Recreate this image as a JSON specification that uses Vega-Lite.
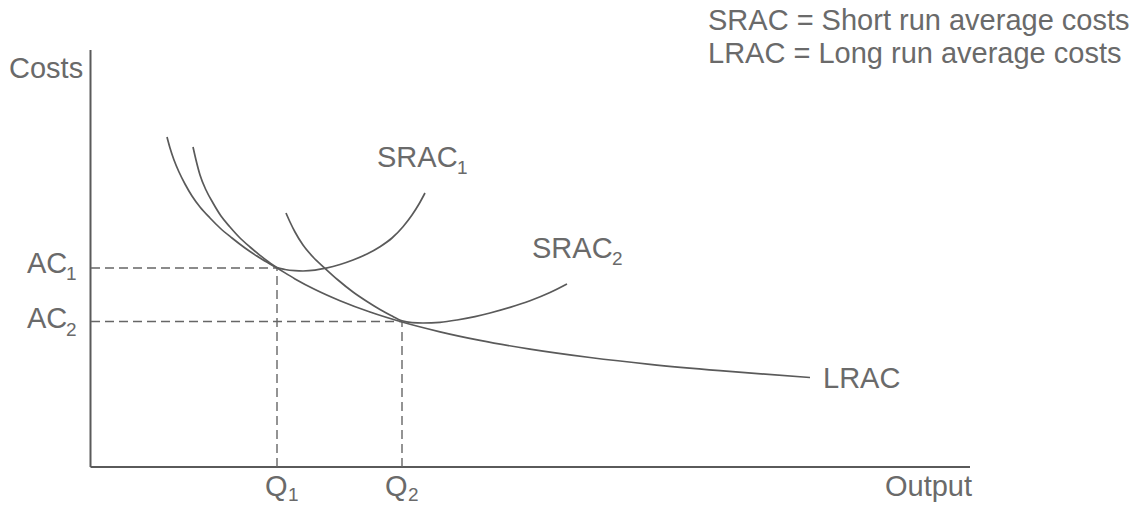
{
  "$schema": "https://vega.github.io/schema/vega-lite/v6.json",
  "width": 1142,
  "height": 506,
  "autosize": {"type": "none"},
  "padding": 0,
  "background": "white",
  "config": {"view": {"stroke": null}},
  "datasets": {
    "curves": [
      {"curve": "LRAC", "x": 76, "y": 330}, {"curve": "LRAC", "x": 79, "y": 319}, {"curve": "LRAC", "x": 83, "y": 307},
      {"curve": "LRAC", "x": 88, "y": 295}, {"curve": "LRAC", "x": 94, "y": 283}, {"curve": "LRAC", "x": 101, "y": 271},
      {"curve": "LRAC", "x": 109, "y": 260}, {"curve": "LRAC", "x": 119, "y": 249}, {"curve": "LRAC", "x": 129, "y": 239},
      {"curve": "LRAC", "x": 141, "y": 229}, {"curve": "LRAC", "x": 154, "y": 219}, {"curve": "LRAC", "x": 169, "y": 209},
      {"curve": "LRAC", "x": 186, "y": 199}, {"curve": "LRAC", "x": 204, "y": 188.1}, {"curve": "LRAC", "x": 224, "y": 177.5},
      {"curve": "LRAC", "x": 249, "y": 166.3}, {"curve": "LRAC", "x": 279, "y": 155}, {"curve": "LRAC", "x": 311, "y": 145},
      {"curve": "LRAC", "x": 349, "y": 135.2}, {"curve": "LRAC", "x": 389, "y": 126.6}, {"curve": "LRAC", "x": 439, "y": 117.9},
      {"curve": "LRAC", "x": 499, "y": 109.5}, {"curve": "LRAC", "x": 559, "y": 102.7}, {"curve": "LRAC", "x": 629, "y": 96.3},
      {"curve": "LRAC", "x": 719, "y": 89.5},
      {"curve": "SRAC1", "x": 102, "y": 320}, {"curve": "SRAC1", "x": 105, "y": 307}, {"curve": "SRAC1", "x": 109, "y": 292},
      {"curve": "SRAC1", "x": 115, "y": 277}, {"curve": "SRAC1", "x": 122, "y": 264}, {"curve": "SRAC1", "x": 130, "y": 251},
      {"curve": "SRAC1", "x": 139, "y": 240}, {"curve": "SRAC1", "x": 149, "y": 229}, {"curve": "SRAC1", "x": 159, "y": 220},
      {"curve": "SRAC1", "x": 169, "y": 211.7}, {"curve": "SRAC1", "x": 179, "y": 204}, {"curve": "SRAC1", "x": 186, "y": 199.5},
      {"curve": "SRAC1", "x": 194, "y": 197.5}, {"curve": "SRAC1", "x": 204, "y": 196.3}, {"curve": "SRAC1", "x": 212, "y": 196},
      {"curve": "SRAC1", "x": 224, "y": 196.8}, {"curve": "SRAC1", "x": 234, "y": 198.7}, {"curve": "SRAC1", "x": 249, "y": 202.5},
      {"curve": "SRAC1", "x": 262, "y": 207}, {"curve": "SRAC1", "x": 276, "y": 213}, {"curve": "SRAC1", "x": 289, "y": 220.3},
      {"curve": "SRAC1", "x": 301, "y": 229}, {"curve": "SRAC1", "x": 312, "y": 240.3}, {"curve": "SRAC1", "x": 321, "y": 252},
      {"curve": "SRAC1", "x": 328, "y": 263}, {"curve": "SRAC1", "x": 334, "y": 274},
      {"curve": "SRAC2", "x": 195, "y": 254}, {"curve": "SRAC2", "x": 199, "y": 245}, {"curve": "SRAC2", "x": 204, "y": 235},
      {"curve": "SRAC2", "x": 212, "y": 222}, {"curve": "SRAC2", "x": 222, "y": 210}, {"curve": "SRAC2", "x": 234, "y": 198.7},
      {"curve": "SRAC2", "x": 247, "y": 187}, {"curve": "SRAC2", "x": 262, "y": 175}, {"curve": "SRAC2", "x": 276, "y": 165.5},
      {"curve": "SRAC2", "x": 289, "y": 157.5}, {"curve": "SRAC2", "x": 300, "y": 151.5}, {"curve": "SRAC2", "x": 311, "y": 146.2},
      {"curve": "SRAC2", "x": 321, "y": 144.4}, {"curve": "SRAC2", "x": 332, "y": 144}, {"curve": "SRAC2", "x": 349, "y": 144.7},
      {"curve": "SRAC2", "x": 366, "y": 147}, {"curve": "SRAC2", "x": 384, "y": 150.4}, {"curve": "SRAC2", "x": 399, "y": 154},
      {"curve": "SRAC2", "x": 419, "y": 159.6}, {"curve": "SRAC2", "x": 439, "y": 166.2}, {"curve": "SRAC2", "x": 459, "y": 174.4},
      {"curve": "SRAC2", "x": 476, "y": 183}
    ],
    "dashes": [
      {"x": 0, "y": 199, "x2": 186, "y2": 199},
      {"x": 0, "y": 145.5, "x2": 311, "y2": 145.5},
      {"x": 186, "y": 0, "x2": 186, "y2": 199},
      {"x": 311, "y": 0, "x2": 311, "y2": 145.5}
    ],
    "axes": [
      {"x": -0.5, "y": 0, "x2": -0.5, "y2": 417},
      {"x": -0.5, "y": 0, "x2": 879, "y2": 0}
    ],
    "labels": [
      {"text": "Costs", "x": -82, "y": 389},
      {"text": "AC", "x": -64, "y": 194},
      {"text": "AC", "x": -64, "y": 139},
      {"text": "Q", "x": 174, "y": -29},
      {"text": "Q", "x": 294, "y": -29},
      {"text": "SRAC", "x": 286, "y": 300},
      {"text": "SRAC", "x": 441, "y": 209},
      {"text": "LRAC", "x": 732, "y": 79},
      {"text": "Output", "x": 794, "y": -29},
      {"text": "SRAC = Short run average costs", "x": 617, "y": 437},
      {"text": "LRAC = Long run average costs", "x": 617, "y": 404}
    ],
    "subs": [
      {"text": "1", "x": -25, "y": 187},
      {"text": "2", "x": -25, "y": 131},
      {"text": "1", "x": 197, "y": -34},
      {"text": "2", "x": 317, "y": -34},
      {"text": "1", "x": 366, "y": 293},
      {"text": "2", "x": 521, "y": 202}
    ]
  },
  "encoding": {
    "x": {"field": "x", "type": "quantitative", "scale": {"domain": [-91, 1051], "nice": false, "zero": false}, "axis": null},
    "y": {"field": "y", "type": "quantitative", "scale": {"domain": [-39, 467], "nice": false, "zero": false}, "axis": null}
  },
  "layer": [
    {
      "data": {"name": "axes"},
      "mark": {"type": "rule", "color": "#5a5a5a", "strokeWidth": 2},
      "encoding": {"x2": {"field": "x2"}, "y2": {"field": "y2"}}
    },
    {
      "data": {"name": "dashes"},
      "mark": {"type": "rule", "color": "#666666", "strokeWidth": 1.4, "strokeDash": [9, 5]},
      "encoding": {"x2": {"field": "x2"}, "y2": {"field": "y2"}}
    },
    {
      "data": {"name": "curves"},
      "mark": {"type": "line", "color": "#5a5a5a", "strokeWidth": 1.7, "interpolate": "monotone"},
      "encoding": {"detail": {"field": "curve", "type": "nominal"}}
    },
    {
      "data": {"name": "labels"},
      "mark": {"type": "text", "align": "left", "baseline": "alphabetic", "font": "Liberation Sans", "fontSize": 29, "color": "#6a6a6a"},
      "encoding": {"text": {"field": "text"}}
    },
    {
      "data": {"name": "subs"},
      "mark": {"type": "text", "align": "left", "baseline": "alphabetic", "font": "Liberation Sans", "fontSize": 19, "color": "#6a6a6a"},
      "encoding": {"text": {"field": "text"}}
    }
  ]
}
